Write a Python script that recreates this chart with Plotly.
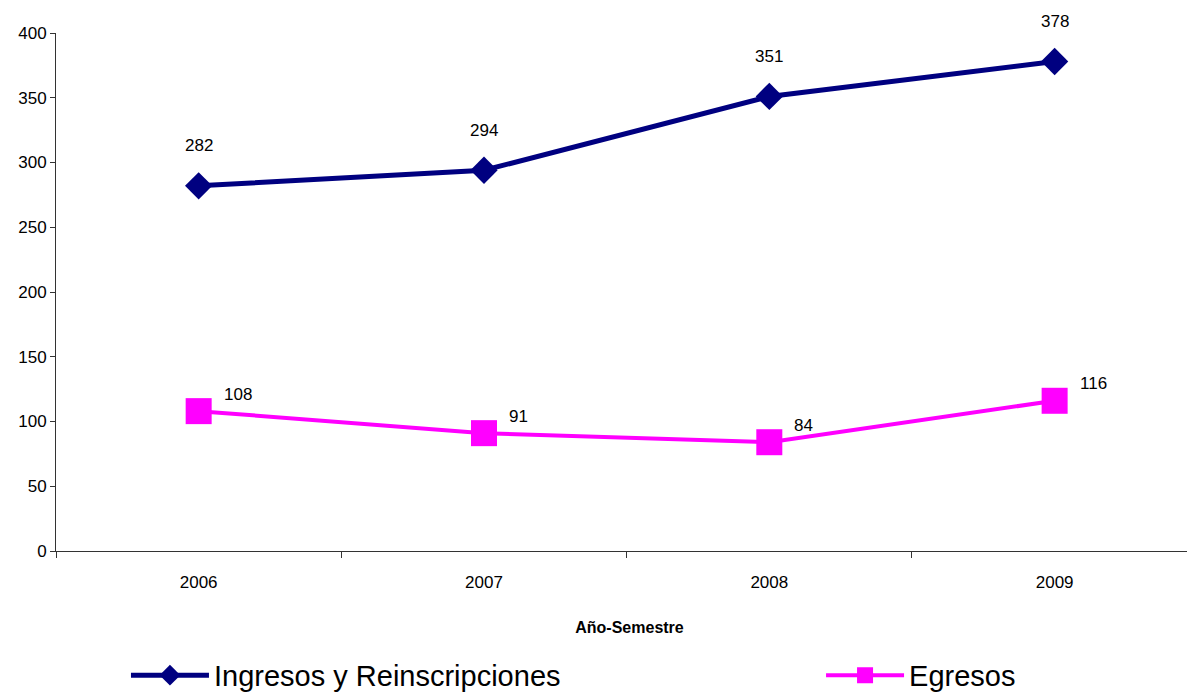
import plotly.graph_objects as go

# ── DATA ────────────────────────────────────────────────────
years     = ["2006", "2007", "2008", "2009"]
ingresos  = [282, 294, 351, 378]
egresos   = [108, 91, 84, 116]
y_ticks   = [0, 50, 100, 150, 200, 250, 300, 350, 400]

NAVY    = "#000080"
MAGENTA = "#FF00FF"
FONT    = "Liberation Sans, Arial, sans-serif"

fig = go.Figure()
fig.add_trace(go.Scatter(
    x=years, y=ingresos, name="Ingresos y Reinscripciones",
    mode="lines+markers", legend="legend",
    line=dict(color=NAVY, width=5),
    marker=dict(symbol="diamond", size=21, color=NAVY, line=dict(width=0))
))
fig.add_trace(go.Scatter(
    x=years, y=egresos, name="Egresos",
    mode="lines+markers", legend="legend2",
    line=dict(color=MAGENTA, width=4),
    marker=dict(symbol="square", size=26, color=MAGENTA, line=dict(width=0))
))

# data labels (Excel style) - category index used for x
for i, v in enumerate(ingresos):
    fig.add_annotation(x=i, y=v, text=str(v), showarrow=False,
                       xanchor="center", yanchor="middle", yshift=40,
                       font=dict(size=17, color="black", family=FONT))
for i, v in enumerate(egresos):
    fig.add_annotation(x=i, y=v, text=str(v), showarrow=False,
                       xanchor="left", yanchor="middle", xshift=23, yshift=17,
                       font=dict(size=17, color="black", family=FONT))

leg_style = dict(orientation="h", xanchor="left", y=-0.24, yanchor="middle",
                 font=dict(size=29, family=FONT), itemwidth=78,
                 bgcolor="rgba(0,0,0,0)")

# page body adds an 8px offset, margins compensate for it
fig.update_layout(
    width=1195, height=693,
    margin=dict(l=48, r=0, t=25, b=150, autoexpand=False),
    paper_bgcolor="white", plot_bgcolor="white",
    font=dict(family=FONT, color="black", size=17),
    showlegend=True,
    legend=dict(x=0.061, **leg_style),
    legend2=dict(x=0.667, **leg_style),
    xaxis=dict(
        type="category", range=[-0.5, 3.52], tickson="boundaries",
        showline=True, linecolor="#333333", linewidth=1,
        ticks="outside", ticklen=6, tickcolor="#333333",
        showgrid=False, zeroline=False, ticklabelstandoff=16,
        title=dict(text="<b>Año-Semestre</b>", font=dict(size=16, family=FONT), standoff=30)
    ),
    yaxis=dict(
        range=[0, 400], tickvals=y_ticks,
        showline=True, linecolor="#333333", linewidth=1,
        ticks="outside", ticklen=5, tickcolor="#333333",
        showgrid=False, zeroline=False
    )
)

fig.write_html("out.html")
